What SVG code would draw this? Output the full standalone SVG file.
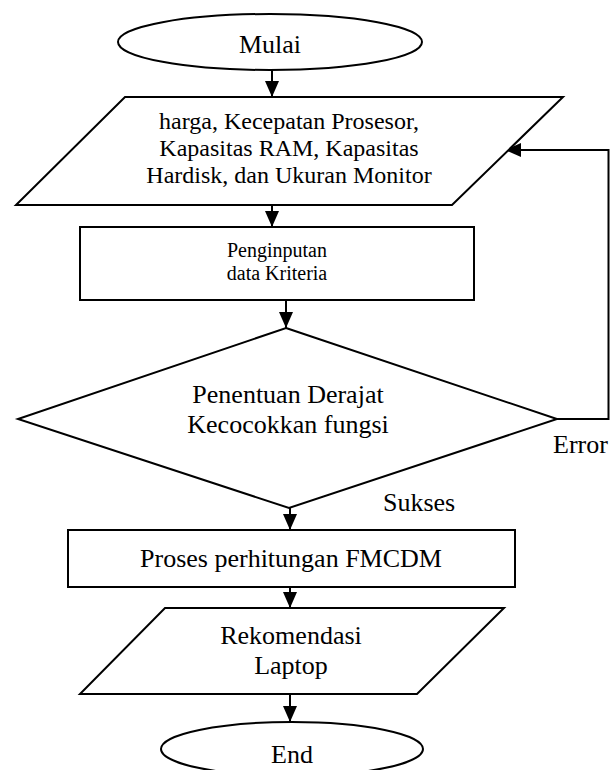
<svg xmlns="http://www.w3.org/2000/svg" width="610" height="770" viewBox="0 0 610 770">
<style>
.s{fill:#fff;stroke:#000;stroke-width:2}
.t{font-family:"Liberation Serif","Times New Roman",serif;fill:#000;text-anchor:middle}
.c{fill:none;stroke:#000;stroke-width:2}
</style>
<defs>
<marker id="ah" markerUnits="userSpaceOnUse" markerWidth="16" markerHeight="14" refX="16" refY="7" orient="auto">
<path d="M0,0 L16,7 L0,14 z" fill="#000"/>
</marker>
</defs>
<rect width="610" height="770" fill="#fff"/>
<g id="connectors">
<line class="c" x1="272" y1="70" x2="272" y2="97" marker-end="url(#ah)"/>
<line class="c" x1="272" y1="205" x2="272" y2="227" marker-end="url(#ah)"/>
<line class="c" x1="286" y1="300" x2="286" y2="328" marker-end="url(#ah)"/>
<line class="c" x1="290" y1="508" x2="290" y2="530" marker-end="url(#ah)"/>
<line class="c" x1="290" y1="587" x2="290" y2="608" marker-end="url(#ah)"/>
<line class="c" x1="290" y1="694" x2="290" y2="722" marker-end="url(#ah)"/>
<polyline class="c" points="557,419 608.5,419 608.5,150 505,150" marker-end="url(#ah)"/>
<text class="t" x="553" y="453" font-size="26" text-anchor="start" style="text-anchor:start">Error</text>
<text class="t" x="383" y="511" font-size="26" style="text-anchor:start">Sukses</text>
</g>
<g id="mulai">
<ellipse class="s" cx="270" cy="42" rx="152" ry="28"/>
<text class="t" x="270" y="53" font-size="26">Mulai</text>
</g>
<g id="input-kriteria">
<polygon class="s" points="125,97 563,97 452,205 16,205"/>
<text class="t" x="289" y="129" font-size="24">harga, Kecepatan Prosesor,</text>
<text class="t" x="289" y="156" font-size="24">Kapasitas RAM, Kapasitas</text>
<text class="t" x="289" y="183" font-size="24">Hardisk, dan Ukuran Monitor</text>
</g>
<g id="penginputan">
<rect class="s" x="80" y="227" width="394" height="73"/>
<text class="t" x="277" y="257" font-size="20">Penginputan</text>
<text class="t" x="277" y="280" font-size="20">data Kriteria</text>
</g>
<g id="penentuan">
<polygon class="s" points="286,328 557,419 289,508 18,419"/>
<text class="t" x="288" y="403" font-size="26">Penentuan Derajat</text>
<text class="t" x="288" y="433" font-size="26">Kecocokkan fungsi</text>
</g>
<g id="proses">
<rect class="s" x="68" y="530" width="447" height="57"/>
<text class="t" x="291" y="567" font-size="26">Proses perhitungan FMCDM</text>
</g>
<g id="rekomendasi">
<polygon class="s" points="165,608 504,608 417,694 80,694"/>
<text class="t" x="291" y="644" font-size="26">Rekomendasi</text>
<text class="t" x="291" y="674" font-size="26">Laptop</text>
</g>
<g id="end">
<ellipse class="s" cx="292" cy="749" rx="131" ry="27"/>
<text class="t" x="292" y="763" font-size="26">End</text>
</g>
</svg>
